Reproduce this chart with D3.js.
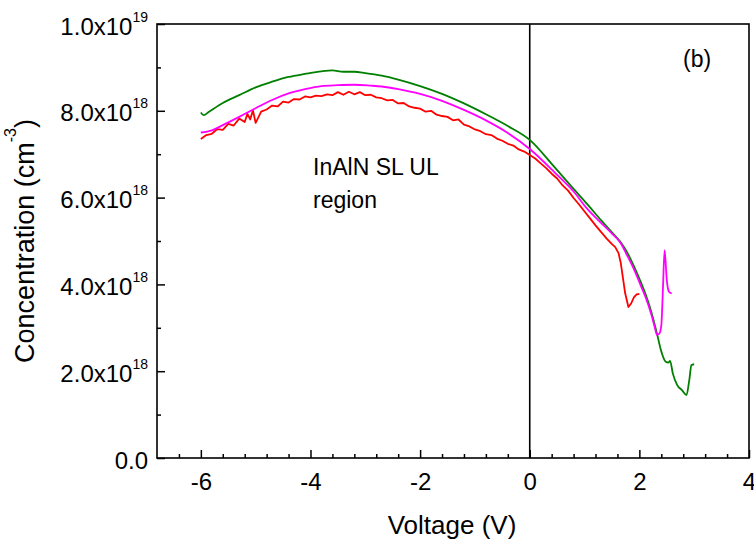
<!DOCTYPE html>
<html lang="en">
<head>
<meta charset="UTF-8">
<title>Concentration vs Voltage</title>
<style>
  body { margin: 0; background: #fff; }
  svg text { font-family: "Liberation Sans", Arial, sans-serif; fill: #000; }
  .frame { fill: none; stroke: #000; stroke-width: 1.6px; }
  .zero { stroke: #000; stroke-width: 1.6px; }
  .axis path { display: none; }
  .axis line { stroke: #000; stroke-width: 1.5px; }
  .axis text { font-size: 24px; }
  .curve { fill: none; stroke-width: 1.8px; stroke-linejoin: round; }
</style>
</head>
<body>
<script src="https://d3js.org/d3.v7.min.js"></script>
<script>
// values in units of 1e18 cm^-3
const voltsGreen = [-6.0, -5.95, -5.85, -5.6, -5.3, -5.0, -4.7, -4.4, -4.1, -3.8, -3.6, -3.4, -3.2, -3.0, -2.7,
  -2.4, -2.0, -1.6, -1.2, -0.8, -0.4, 0.0, 0.44, 0.8, 1.05, 1.3, 1.5, 1.66, 1.78, 1.9, 2.03, 2.12, 2.21, 2.33,
  2.39, 2.48, 2.53, 2.56, 2.61, 2.69, 2.78, 2.86, 2.91, 2.95, 3.0];
const concGreen = [7.96, 7.90, 7.98, 8.18, 8.36, 8.54, 8.67, 8.78, 8.85, 8.91, 8.93, 8.90, 8.90, 8.87, 8.81,
  8.72, 8.57, 8.39, 8.17, 7.92, 7.65, 7.33, 6.72, 6.20, 5.85, 5.48, 5.20, 4.97, 4.73, 4.42, 4.04, 3.75, 3.40,
  2.82, 2.50, 2.22, 2.20, 2.24, 1.95, 1.68, 1.56, 1.45, 1.79, 2.14, 2.16];

const voltsMagenta = [-6.0, -5.8, -5.6, -5.3, -5.0, -4.7, -4.4, -4.1, -3.8, -3.5, -3.2, -2.9, -2.7, -2.4, -2.0,
  -1.6, -1.2, -0.8, -0.4, 0.0, 0.44, 0.8, 1.05, 1.3, 1.5, 1.66, 1.78, 1.9, 2.03, 2.12, 2.21, 2.28, 2.32, 2.36,
  2.40, 2.43, 2.46, 2.50, 2.54, 2.59];
const concMagenta = [7.50, 7.55, 7.67, 7.86, 8.06, 8.25, 8.40, 8.50, 8.57, 8.59, 8.60, 8.58, 8.56, 8.50, 8.39,
  8.23, 8.02, 7.78, 7.49, 7.12, 6.60, 6.14, 5.74, 5.42, 5.17, 4.95, 4.66, 4.35, 3.96, 3.68, 3.34, 3.02, 2.84,
  2.86, 3.05, 3.90, 4.79, 4.10, 3.83, 3.79];

const voltsRed = [-6.0, -5.9, -5.8, -5.7, -5.6, -5.5, -5.4, -5.3, -5.2, -5.15, -5.1, -5.05, -5.0, -4.9, -4.8,
  -4.7, -4.6, -4.5, -4.4, -4.3, -4.2, -4.1, -4.0, -3.9, -3.8, -3.7, -3.6, -3.5, -3.4, -3.3, -3.2, -3.1, -3.0,
  -2.9, -2.8, -2.7, -2.6, -2.5, -2.4, -2.3, -2.2, -2.1, -2.0, -1.9, -1.8, -1.7, -1.6, -1.5, -1.4, -1.3, -1.2,
  -1.1, -1.0, -0.9, -0.8, -0.7, -0.6, -0.5, -0.4, -0.3, -0.2, -0.1, 0.0, 0.1, 0.2, 0.3, 0.4, 0.5, 0.6, 0.7,
  0.8, 0.9, 1.0, 1.1, 1.2, 1.3, 1.4, 1.5, 1.56, 1.62, 1.66, 1.70, 1.74, 1.8, 1.85, 1.9, 1.95, 2.0];
const concRed = [7.35, 7.44, 7.47, 7.58, 7.56, 7.70, 7.66, 7.82, 7.74, 7.93, 7.80, 8.01, 7.72, 7.98, 8.03,
  8.12, 8.10, 8.21, 8.19, 8.27, 8.26, 8.33, 8.31, 8.35, 8.34, 8.38, 8.36, 8.43, 8.37, 8.44, 8.38, 8.43, 8.36,
  8.37, 8.31, 8.29, 8.24, 8.25, 8.17, 8.18, 8.10, 8.07, 8.05, 7.98, 8.00, 7.91, 7.88, 7.86, 7.78, 7.80, 7.68,
  7.64, 7.57, 7.53, 7.46, 7.44, 7.36, 7.31, 7.24, 7.20, 7.11, 7.06, 6.98, 6.90, 6.79, 6.68, 6.55, 6.44, 6.28,
  6.16, 5.99, 5.84, 5.68, 5.52, 5.36, 5.21, 5.06, 4.93, 4.86, 4.72, 4.50, 4.15, 3.80, 3.48, 3.56, 3.70, 3.77, 3.78];

const xTicks = [-6, -4, -2, 0, 2, 4];
const yTicks = [0, 2, 4, 6, 8, 10];

const margin = { top: 24, right: 5, bottom: 87, left: 157 };
const width = 754 - margin.left - margin.right;
const height = 545 - margin.top - margin.bottom;

const x = d3.scaleLinear().domain([-6.8, 4]).range([0, width]);
const y = d3.scaleLinear().domain([0, 10]).range([height, 0]);

const svg = d3.select('body').append('svg')
  .attr('width', 754)
  .attr('height', 545);

const g = svg.append('g')
  .attr('transform', `translate(${margin.left},${margin.top})`);

// minor ticks
const xMinor = d3.range(-6.4, 4, 0.4).filter(v => Math.abs(v / 2 - Math.round(v / 2)) > 0.01);
g.append('g')
  .attr('class', 'axis')
  .attr('transform', `translate(0,${height})`)
  .call(d3.axisBottom(x).tickValues(xMinor).tickSizeInner(-4).tickSizeOuter(0).tickFormat(''));
g.append('g')
  .attr('class', 'axis')
  .call(d3.axisLeft(y).tickValues([1, 3, 5, 7, 9]).tickSizeInner(-4).tickSizeOuter(0).tickFormat(''));

// major ticks
g.append('g')
  .attr('class', 'axis')
  .attr('transform', `translate(0,${height})`)
  .call(d3.axisBottom(x).tickValues(xTicks).tickSizeInner(-8).tickSizeOuter(0).tickPadding(15)
    .tickFormat(d => d3.format('d')(d).replace('−', '-')));

const yAxis = g.append('g')
  .attr('class', 'axis')
  .call(d3.axisLeft(y).tickValues(yTicks).tickSizeInner(-8).tickSizeOuter(0).tickPadding(9).tickFormat(''));

yAxis.selectAll('.tick text').each(function (d) {
  const t = d3.select(this).attr('dy', '0.42em');
  if (d === 0) { t.text('0.0'); return; }
  const v = d * 1e18;
  const e = Math.floor(Math.log10(v));
  t.append('tspan').text((v / Math.pow(10, e)).toFixed(1) + 'x10');
  t.append('tspan').attr('font-size', '14px').attr('dy', -13).text(e);
});

// frame and zero line
g.append('rect').attr('class', 'frame').attr('width', width).attr('height', height);
g.append('line').attr('class', 'zero')
  .attr('x1', x(0)).attr('x2', x(0)).attr('y1', 0).attr('y2', height);

// curves
const smooth = d3.line().curve(d3.curveMonotoneX).x(d => x(d[0])).y(d => y(d[1]));
const rough = d3.line().x(d => x(d[0])).y(d => y(d[1]));
const series = [
  [voltsGreen, concGreen, '#008000', smooth],
  [voltsRed, concRed, '#ff0000', rough],
  [voltsMagenta, concMagenta, '#ff00ff', smooth],
];
series.forEach(([vs, cs, color, gen]) => {
  g.append('path')
    .datum(d3.zip(vs, cs))
    .attr('class', 'curve')
    .attr('stroke', color)
    .attr('d', gen);
});

// annotations
g.append('text').attr('x', 156).attr('y', 151).style('font-size', '23px').text('InAlN SL UL');
g.append('text').attr('x', 156).attr('y', 184).style('font-size', '23px').text('region');
g.append('text').attr('x', 526).attr('y', 43).style('font-size', '23px').text('(b)');

// axis titles
svg.append('text')
  .attr('x', 452).attr('y', 534)
  .attr('text-anchor', 'middle')
  .style('font-size', '26px')
  .text('Voltage (V)');

const yl = svg.append('text')
  .attr('transform', 'translate(34,241) rotate(-90)')
  .attr('text-anchor', 'middle')
  .style('font-size', '27px');
yl.append('tspan').text('Concentration (cm');
yl.append('tspan').attr('font-size', '16px').attr('dy', -18).text('-3');
yl.append('tspan').attr('dy', 18).text(')');
</script>
</body>
</html>
